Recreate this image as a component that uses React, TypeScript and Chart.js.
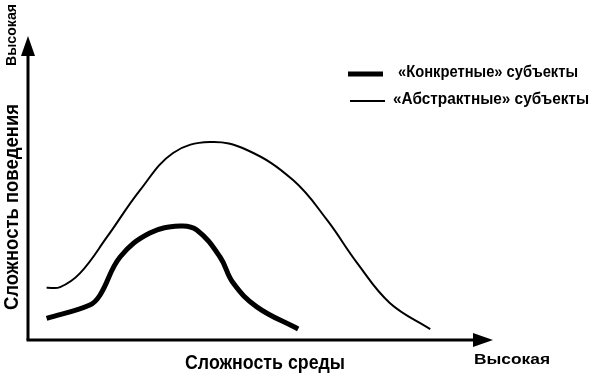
import React, { useEffect, useRef } from "react";
import { Chart, registerables } from "chart.js";

Chart.register(...registerables);

const concreteX = [4.0, 13.3, 15.5, 19.8, 26.2, 32.7, 36.3, 41.3, 44.1, 49.2, 58.1];
const concreteY = [7.1, 11.5, 14.8, 27.3, 35.2, 37.5, 36.2, 27.3, 18.8, 10.9, 3.6];
const abstractX = [4.0, 6.9, 11.2, 17.0, 24.1, 31.2, 39.1, 47.1, 57.0, 64.3, 70.8, 77.8, 86.5];
const abstractY = [17.2, 17.4, 22.0, 33.9, 49.3, 61.5, 65.1, 62.5, 52.6, 39.5, 25.3, 12.2, 3.6];
const seriesNames = ["«Конкретные» субъекты", "«Абстрактные» субъекты"];
const xTitle = "Сложность среды";
const yTitle = "Сложность поведения";
const highLabel = "Высокая";

const FONT = "'Liberation Sans', Arial, sans-serif";

function narrowText(
  ctx: CanvasRenderingContext2D,
  text: string,
  x: number,
  y: number,
  size: number,
  targetWidth: number,
  align: "left" | "center",
  angle = 0
) {
  ctx.save();
  ctx.font = `bold ${size}px ${FONT}`;
  const w = ctx.measureText(text).width;
  const sx = targetWidth / w;
  ctx.translate(x, y);
  ctx.rotate(angle);
  ctx.scale(sx, 1);
  ctx.textAlign = align;
  ctx.textBaseline = "middle";
  ctx.fillText(text, 0, 0);
  ctx.restore();
}

const decorPlugin = {
  id: "decor",
  afterDraw(chart: any) {
    const ctx = chart.ctx as CanvasRenderingContext2D;
    const a = chart.chartArea;
    ctx.save();
    ctx.strokeStyle = "#000";
    ctx.fillStyle = "#000";
    ctx.lineWidth = 3;
    ctx.beginPath();
    ctx.moveTo(a.left, a.bottom);
    ctx.lineTo(a.left, a.top + 14);
    ctx.stroke();
    ctx.beginPath();
    ctx.moveTo(a.left - 1.5, a.bottom);
    ctx.lineTo(a.right - 14, a.bottom);
    ctx.stroke();
    ctx.beginPath();
    ctx.moveTo(a.left, a.top);
    ctx.lineTo(a.left - 7, a.top + 20);
    ctx.lineTo(a.left + 7, a.top + 20);
    ctx.closePath();
    ctx.fill();
    ctx.beginPath();
    ctx.moveTo(a.right, a.bottom);
    ctx.lineTo(a.right - 20, a.bottom - 7);
    ctx.lineTo(a.right - 20, a.bottom + 7);
    ctx.closePath();
    ctx.fill();

    narrowText(ctx, xTitle, 265, 363, 20, 160, "center");
    narrowText(ctx, highLabel, 512, 360, 15, 76, "center");
    narrowText(ctx, yTitle, 12, 207, 20, 206, "center", -Math.PI / 2);
    narrowText(ctx, highLabel, 12, 35, 15, 62, "center", -Math.PI / 2);

    ctx.lineWidth = 5;
    ctx.beginPath();
    ctx.moveTo(348, 74);
    ctx.lineTo(383, 74);
    ctx.stroke();
    narrowText(ctx, seriesNames[0], 398, 73, 16, 180, "left");
    ctx.lineWidth = 2;
    ctx.beginPath();
    ctx.moveTo(350, 101);
    ctx.lineTo(385, 101);
    ctx.stroke();
    narrowText(ctx, seriesNames[1], 393, 100, 16, 196, "left");
    ctx.restore();
  },
};

export default function App() {
  const ref = useRef<HTMLCanvasElement | null>(null);
  useEffect(() => {
    if (!ref.current) return;
    const chart = new Chart(ref.current, {
      type: "line",
      data: {
        datasets: [
          {
            label: seriesNames[0],
            data: concreteX.map((x, i) => ({ x, y: concreteY[i] })),
            borderColor: "#000",
            borderWidth: 5,
            pointRadius: 0,
            tension: 0.4,
            fill: false,
          },
          {
            label: seriesNames[1],
            data: abstractX.map((x, i) => ({ x, y: abstractY[i] })),
            borderColor: "#000",
            borderWidth: 2,
            pointRadius: 0,
            tension: 0.4,
            fill: false,
          },
        ],
      },
      options: {
        animation: false,
        responsive: true,
        maintainAspectRatio: false,
        layout: { padding: { left: 28, right: 97, top: 36, bottom: 36 } },
        scales: {
          x: { type: "linear", min: 0, max: 100, display: false },
          y: { type: "linear", min: 0, max: 100, display: false },
        },
        plugins: { legend: { display: false }, tooltip: { enabled: false } },
      },
      plugins: [decorPlugin],
    });
    return () => chart.destroy();
  }, []);
  return (
    <div style={{ position: "fixed", left: 0, top: 0, width: 590, height: 376, background: "#fff" }}>
      <canvas ref={ref} />
    </div>
  );
}
